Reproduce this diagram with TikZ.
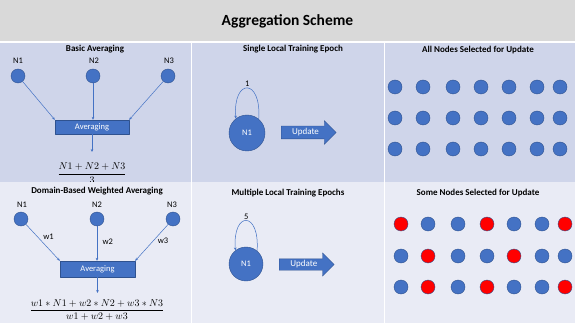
\documentclass[tikz,border=0pt]{standalone}
\usepackage{amsmath}
\usepackage{fontspec}
\setmainfont{Carlito}
\usetikzlibrary{arrows.meta,shapes.arrows}

\definecolor{titlegray}{HTML}{D9D9D9}
\definecolor{paneltop}{HTML}{CFD5EA}
\definecolor{panelbot}{HTML}{E9EBF5}
\definecolor{nodeblue}{HTML}{4472C4}
\definecolor{nodeedge}{HTML}{2F528F}
\definecolor{nodered}{HTML}{FF0000}

\tikzset{
  client/.style={circle, fill=nodeblue, draw=nodeedge, line width=0.4pt, minimum size=14pt, inner sep=0pt},
  avgbox/.style={rectangle, fill=nodeblue, draw=nodeedge, line width=0.4pt, text=white,
    font=\fontsize{8.5}{10}\selectfont, minimum height=14pt, minimum width=74pt, inner sep=0pt},
  flow/.style={nodeblue, line width=0.5pt, -{Stealth[length=3pt,width=2.6pt]}},
  paneltitle/.style={font=\fontsize{9}{11}\selectfont\bfseries},
  nlabel/.style={font=\fontsize{8.5}{10}\selectfont, text=black},
  epochnode/.style={circle, fill=nodeblue, draw=nodeedge, line width=0.4pt, minimum size=36pt,
    inner sep=0pt, text=white, font=\fontsize{8.5}{10}\selectfont},
  updarrow/.style={single arrow, fill=nodeblue, draw=nodeedge, line width=0.4pt, text=white,
    font=\fontsize{9}{11}\selectfont, text height=6pt, text depth=1.5pt, inner ysep=2.5pt,
    single arrow head extend=5.5pt, minimum height=55pt, anchor=tail}
}

\begin{document}
\begin{tikzpicture}[x=1pt, y=-1pt, line cap=round, line join=round]

% === FONDO Y TITULO ===
\useasboundingbox (0,0) rectangle (575,323);
\fill[white] (0,0) rectangle (575,323);
\fill[titlegray] (0,0) rectangle (575,41);
\node[font=\fontsize{15.5}{18}\selectfont\bfseries] (title) at (287.5,21) {Aggregation Scheme};

% === FILA SUPERIOR ===
\fill[paneltop] (0,43) rectangle (190.5,182);
\fill[paneltop] (192,43) rectangle (383.5,182);
\fill[paneltop] (385,43) rectangle (575,182);

% Basic Averaging
\node[paneltitle] (t1) at (95,49) {Basic Averaging};
\node[nlabel] at (18,61) {N1};
\node[nlabel] at (94,61) {N2};
\node[nlabel] at (169,61) {N3};
\node[client] (a1) at (18,76) {};
\node[client] (a2) at (93,76) {};
\node[client] (a3) at (168,76) {};
\node[avgbox] (avgA) at (92,127) {Averaging};
\draw[flow] (a1) -- (avgA.north west);
\draw[flow] (a2) -- (a2 |- avgA.north);
\draw[flow] (a3) -- (avgA.north east);
\coordinate (outA) at (92,152);
\draw[flow] (avgA) -- (outA);
\node[inner sep=0pt] (fracA) at (92,173) {$\dfrac{N1+N2+N3}{3}$};

% Single Local Training Epoch
\node[paneltitle] (t2) at (293,49) {Single Local Training Epoch};
\node[epochnode] (e1) at (247,133) {N1};
\draw[flow] (e1.50) .. controls +(3,-41) and +(-3,-41) .. node[nlabel, above, inner sep=1pt] {1} (e1.128);
\node[updarrow] (u1) at (281,132.5) {Update};

% All Nodes Selected for Update
\node[paneltitle] (t3) at (478,50) {All Nodes Selected for Update};
\foreach \y [count=\r] in {87,118,149}{
    \foreach \x [count=\i] in {395,423,453,481,509,537,560}{
        \node[client] (all-\r-\i) at (\x,\y) {};
    }
}

% === FILA INFERIOR ===
\fill[panelbot] (0,182) rectangle (190.5,323);
\fill[panelbot] (192,182) rectangle (383.5,323);
\fill[panelbot] (385,182) rectangle (575,323);

% Domain-Based Weighted Averaging
\node[paneltitle] (t4) at (97,191) {Domain-Based Weighted Averaging};
\node[nlabel] at (22,205) {N1};
\node[nlabel] at (97,205) {N2};
\node[nlabel] at (172,205) {N3};
\node[client] (b1) at (21,219) {};
\node[client] (b2) at (97,219) {};
\node[client] (b3) at (173,219) {};
\node[avgbox, minimum width=75pt, minimum height=16pt] (avgB) at (97.5,269) {Averaging};
\draw[flow] (b1) -- node[nlabel, pos=0.35, right=2pt] {w1} (avgB.north west);
\draw[flow] (b2) -- node[nlabel, pos=0.45, right=2pt] {w2} (b2 |- avgB.north);
\draw[flow] (b3) -- node[nlabel, pos=0.45, right=1pt] {w3} (avgB.north east);
\coordinate (outB) at (97.5,293);
\draw[flow] (avgB) -- (outB);
\node[inner sep=0pt] (fracB) at (97,310) {$\dfrac{w1\ast N1+w2\ast N2+w3\ast N3}{w1+w2+w3}$};

% Multiple Local Training Epochs
\node[paneltitle] (t5) at (288,193) {Multiple Local Training Epochs};
\node[epochnode, minimum size=34pt] (e2) at (246,264) {N1};
\draw[flow] (e2.50) .. controls +(3,-40) and +(-3,-40) .. node[nlabel, above, inner sep=1pt] {5} (e2.128);
\node[updarrow, text height=5.5pt, inner ysep=2pt, single arrow head extend=6pt] (u2) at (279,264.5) {Update};

% Some Nodes Selected for Update
\node[paneltitle] (t6) at (478,193) {Some Nodes Selected for Update};
\foreach \x/\c [count=\i] in {401/nodered,428/nodeblue,458/nodeblue,487/nodered,514/nodeblue,542/nodeblue,565/nodered}{
    \node[client, fill=\c] (some-1-\i) at (\x,224) {};
}
\foreach \x/\c [count=\i] in {401/nodeblue,428/nodered,458/nodeblue,487/nodeblue,514/nodered,542/nodeblue,565/nodeblue}{
    \node[client, fill=\c] (some-2-\i) at (\x,256) {};
}
\foreach \x/\c [count=\i] in {401/nodeblue,428/nodered,458/nodeblue,487/nodered,514/nodeblue,542/nodeblue,565/nodered}{
    \node[client, fill=\c] (some-3-\i) at (\x,287) {};
}

\end{tikzpicture}
\end{document}
